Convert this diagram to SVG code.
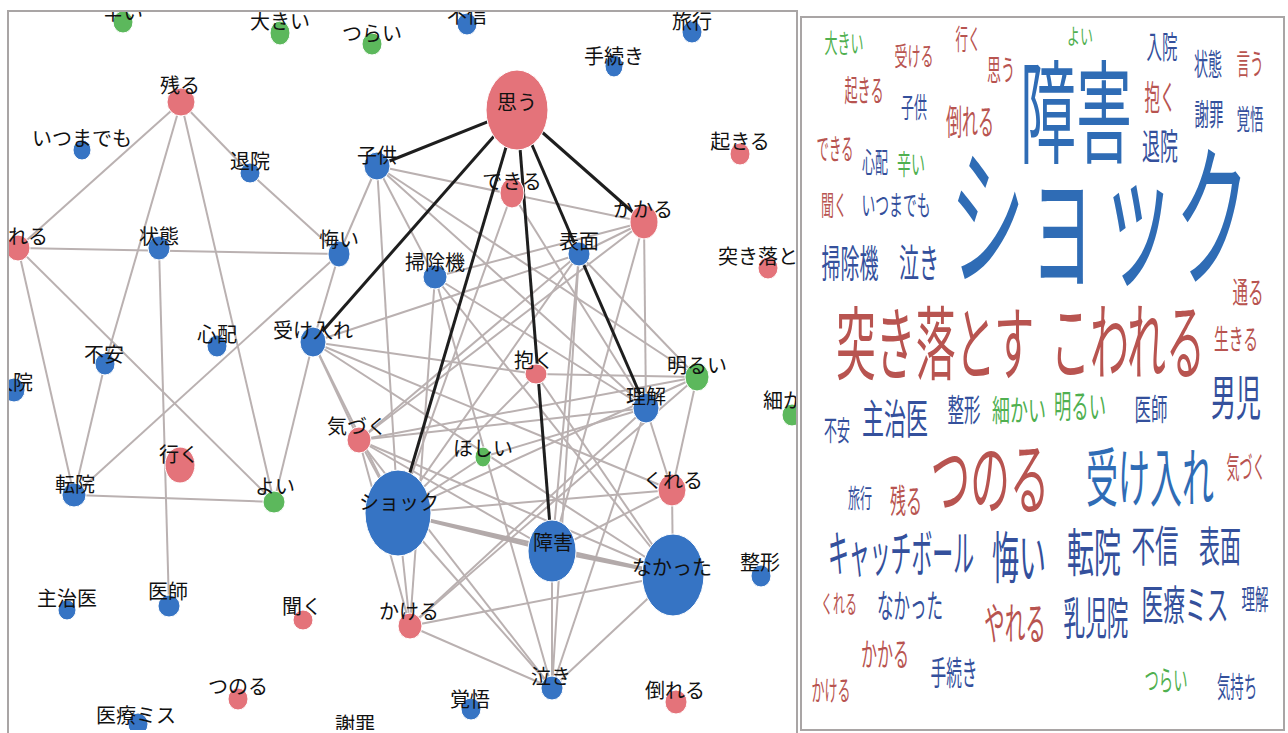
<svg xmlns="http://www.w3.org/2000/svg" width="1288" height="733" viewBox="0 0 1288 733">
<style>
.e{stroke:#bab1b1;stroke-width:2;fill:none}
.et{stroke:#b3aaaa;stroke-width:3;fill:none}
.k{stroke:#1e1e1e;stroke-width:3;fill:none}
.r{fill:#e4737a;stroke:#fff;stroke-width:1}
.b{fill:#3674c4;stroke:#fff;stroke-width:1}
.g{fill:#5cb85c;stroke:#fff;stroke-width:1}
.lb{font-family:"Noto Sans CJK JP","Noto Sans",sans-serif;font-size:20px;fill:#111;text-anchor:middle}
.w{font-family:"Noto Sans CJK JP","Noto Sans",sans-serif;text-anchor:middle}
.wB{fill:#2f6cb5}.wb{fill:#34509c}.wr{fill:#b85450}.wg{fill:#50b050}
.frame{fill:none;stroke:#a9a5a5;stroke-width:2}
</style>
<defs>
<clipPath id="lp"><rect x="8" y="11" width="789" height="719"/></clipPath>
</defs>
<rect width="1288" height="733" fill="#fff"/>
<g id="left-panel">
<g clip-path="url(#lp)">
<g id="connectors">
<line class="e" x1="181" y1="102" x2="18" y2="248"/>
<line class="e" x1="181" y1="102" x2="105" y2="364"/>
<line class="e" x1="181" y1="102" x2="274" y2="502"/>
<line class="e" x1="181" y1="102" x2="250" y2="173"/>
<line class="e" x1="250" y1="173" x2="339" y2="254"/>
<line class="e" x1="18" y1="248" x2="339" y2="254"/>
<line class="e" x1="18" y1="248" x2="74" y2="495"/>
<line class="e" x1="18" y1="248" x2="274" y2="502"/>
<line class="e" x1="159" y1="248" x2="169" y2="606"/>
<line class="e" x1="339" y1="254" x2="74" y2="495"/>
<line class="e" x1="105" y1="364" x2="74" y2="495"/>
<line class="e" x1="74" y1="495" x2="274" y2="502"/>
<line class="e" x1="313" y1="342" x2="274" y2="502"/>
<line class="e" x1="339" y1="254" x2="313" y2="342"/>
<line class="e" x1="377" y1="166" x2="339" y2="254"/>
<line class="e" x1="377" y1="166" x2="398" y2="513"/>
<line class="e" x1="377" y1="166" x2="435" y2="277"/>
<line class="e" x1="377" y1="166" x2="644" y2="222"/>
<line class="e" x1="377" y1="166" x2="646" y2="408"/>
<line class="e" x1="377" y1="166" x2="697" y2="377"/>
<line class="e" x1="313" y1="342" x2="579" y2="254"/>
<line class="e" x1="313" y1="342" x2="536" y2="374"/>
<line class="e" x1="313" y1="342" x2="359" y2="440"/>
<line class="e" x1="313" y1="342" x2="672" y2="490"/>
<line class="e" x1="313" y1="342" x2="673" y2="575"/>
<line class="e" x1="313" y1="342" x2="398" y2="513"/>
<line class="e" x1="435" y1="277" x2="644" y2="222"/>
<line class="e" x1="435" y1="277" x2="410" y2="626"/>
<line class="e" x1="435" y1="277" x2="552" y2="688"/>
<line class="e" x1="435" y1="277" x2="673" y2="575"/>
<line class="e" x1="435" y1="277" x2="646" y2="408"/>
<line class="e" x1="579" y1="254" x2="552" y2="551"/>
<line class="e" x1="579" y1="254" x2="552" y2="688"/>
<line class="e" x1="579" y1="254" x2="398" y2="513"/>
<line class="e" x1="579" y1="254" x2="359" y2="440"/>
<line class="e" x1="579" y1="254" x2="697" y2="377"/>
<line class="e" x1="579" y1="254" x2="644" y2="222"/>
<line class="e" x1="644" y1="222" x2="552" y2="551"/>
<line class="e" x1="644" y1="222" x2="646" y2="408"/>
<line class="e" x1="644" y1="222" x2="359" y2="440"/>
<line class="e" x1="512" y1="193" x2="398" y2="513"/>
<line class="e" x1="512" y1="193" x2="646" y2="408"/>
<line class="e" x1="536" y1="374" x2="697" y2="377"/>
<line class="e" x1="536" y1="374" x2="398" y2="513"/>
<line class="e" x1="536" y1="374" x2="673" y2="575"/>
<line class="e" x1="697" y1="377" x2="672" y2="490"/>
<line class="e" x1="697" y1="377" x2="359" y2="440"/>
<line class="e" x1="697" y1="377" x2="398" y2="513"/>
<line class="e" x1="697" y1="377" x2="410" y2="626"/>
<line class="e" x1="646" y1="408" x2="359" y2="440"/>
<line class="e" x1="646" y1="408" x2="410" y2="626"/>
<line class="e" x1="646" y1="408" x2="672" y2="490"/>
<line class="e" x1="646" y1="408" x2="552" y2="688"/>
<line class="e" x1="359" y1="440" x2="552" y2="551"/>
<line class="e" x1="359" y1="440" x2="673" y2="575"/>
<line class="e" x1="359" y1="440" x2="552" y2="688"/>
<line class="e" x1="359" y1="440" x2="398" y2="513"/>
<line class="e" x1="359" y1="440" x2="410" y2="626"/>
<line class="et" x1="398" y1="513" x2="552" y2="551"/>
<line class="et" x1="398" y1="513" x2="673" y2="575"/>
<line class="e" x1="398" y1="513" x2="672" y2="490"/>
<line class="e" x1="398" y1="513" x2="552" y2="688"/>
<line class="e" x1="398" y1="513" x2="410" y2="626"/>
<line class="e" x1="398" y1="513" x2="483" y2="457"/>
<line class="et" x1="552" y1="551" x2="673" y2="575"/>
<line class="e" x1="552" y1="551" x2="552" y2="688"/>
<line class="e" x1="552" y1="551" x2="672" y2="490"/>
<line class="e" x1="673" y1="575" x2="410" y2="626"/>
<line class="e" x1="673" y1="575" x2="552" y2="688"/>
<line class="e" x1="673" y1="575" x2="672" y2="490"/>
<line class="e" x1="410" y1="626" x2="552" y2="688"/>
<line class="e" x1="483" y1="457" x2="646" y2="408"/>
<line class="k" x1="517" y1="110" x2="377" y2="166"/>
<line class="k" x1="517" y1="110" x2="313" y2="342"/>
<line class="k" x1="517" y1="110" x2="398" y2="513"/>
<line class="k" x1="517" y1="110" x2="552" y2="551"/>
<line class="k" x1="517" y1="110" x2="579" y2="254"/>
<line class="k" x1="517" y1="110" x2="644" y2="222"/>
<line class="k" x1="579" y1="254" x2="646" y2="408"/>
</g>
<g id="n-tsurai2"><ellipse class="g" cx="123" cy="22" rx="10" ry="11"/><text class="lb" x="123" y="20">辛い</text></g>
<g id="n-ookii"><ellipse class="g" cx="280" cy="33" rx="10" ry="12"/><text class="lb" x="280" y="29">大きい</text></g>
<g id="n-tsurai"><ellipse class="g" cx="372" cy="44" rx="10" ry="11"/><text class="lb" x="372" y="41">つらい</text></g>
<g id="n-fushin"><ellipse class="b" cx="467" cy="24" rx="10" ry="11"/><text class="lb" x="467" y="23">不信</text></g>
<g id="n-ryokou"><ellipse class="b" cx="692" cy="32" rx="10" ry="11"/><text class="lb" x="692" y="29">旅行</text></g>
<g id="n-tetsuzuki"><ellipse class="b" cx="614" cy="66" rx="9" ry="11"/><text class="lb" x="614" y="64">手続き</text></g>
<g id="n-omou"><ellipse class="r" cx="517" cy="110" rx="31" ry="40"/><text class="lb" x="517" y="110">思う</text></g>
<g id="n-okiru"><ellipse class="r" cx="740" cy="154" rx="10" ry="11"/><text class="lb" x="740" y="149">起きる</text></g>
<g id="n-dekiru"><ellipse class="r" cx="512" cy="193" rx="12" ry="15"/><text class="lb" x="512" y="189">できる</text></g>
<g id="n-kakaru"><ellipse class="r" cx="644" cy="222" rx="14" ry="17"/><text class="lb" x="643" y="217">かかる</text></g>
<g id="n-nokoru"><ellipse class="r" cx="181" cy="102" rx="14" ry="14"/><text class="lb" x="180" y="93">残る</text></g>
<g id="n-itsumademo"><ellipse class="b" cx="82" cy="150" rx="9" ry="10"/><text class="lb" x="82" y="146">いつまでも</text></g>
<g id="n-taiin"><ellipse class="b" cx="250" cy="173" rx="10" ry="10"/><text class="lb" x="250" y="169">退院</text></g>
<g id="n-kodomo"><ellipse class="b" cx="377" cy="166" rx="13" ry="14"/><text class="lb" x="377" y="163">子供</text></g>
<g id="n-reru"><ellipse class="r" cx="18" cy="248" rx="12" ry="13"/><text class="lb" x="8" y="244" style="text-anchor:start">れる</text></g>
<g id="n-joutai"><ellipse class="b" cx="159" cy="248" rx="11" ry="12"/><text class="lb" x="159" y="244">状態</text></g>
<g id="n-kui"><ellipse class="b" cx="339" cy="254" rx="11" ry="13"/><text class="lb" x="339" y="247">悔い</text></g>
<g id="n-soujiki"><ellipse class="b" cx="435" cy="277" rx="12" ry="12"/><text class="lb" x="435" y="270">掃除機</text></g>
<g id="n-hyoumen"><ellipse class="b" cx="579" cy="254" rx="11" ry="12"/><text class="lb" x="579" y="249">表面</text></g>
<g id="n-tsukiotosu"><ellipse class="r" cx="768" cy="268" rx="10" ry="11"/><text class="lb" x="718" y="264" style="text-anchor:start">突き落と</text></g>
<g id="n-ukeire"><ellipse class="b" cx="313" cy="342" rx="13" ry="15"/><text class="lb" x="313" y="338">受け入れ</text></g>
<g id="n-shinpai"><ellipse class="b" cx="217" cy="346" rx="10" ry="11"/><text class="lb" x="217" y="342">心配</text></g>
<g id="n-fuan"><ellipse class="b" cx="105" cy="364" rx="10" ry="11"/><text class="lb" x="104" y="362">不安</text></g>
<g id="n-nyuuin"><ellipse class="b" cx="14" cy="390" rx="11" ry="12"/><text class="lb" x="33" y="390" style="text-anchor:end">入院</text></g>
<g id="n-daku"><ellipse class="r" cx="536" cy="374" rx="11" ry="10"/><text class="lb" x="534" y="368">抱く</text></g>
<g id="n-akarui"><ellipse class="g" cx="697" cy="377" rx="12" ry="14"/><text class="lb" x="697" y="373">明るい</text></g>
<g id="n-rikai"><ellipse class="b" cx="646" cy="408" rx="13" ry="15"/><text class="lb" x="646" y="404">理解</text></g>
<g id="n-komakai"><ellipse class="g" cx="792" cy="415" rx="10" ry="11"/><text class="lb" x="763" y="408" style="text-anchor:start">細か</text></g>
<g id="n-kizuku"><ellipse class="r" cx="359" cy="440" rx="12" ry="13"/><text class="lb" x="357" y="434">気づく</text></g>
<g id="n-hoshii"><ellipse class="g" cx="483" cy="457" rx="8" ry="10"/><text class="lb" x="483" y="456">ほしい</text></g>
<g id="n-iku"><ellipse class="r" cx="180" cy="465" rx="15" ry="18"/><text class="lb" x="179" y="462">行く</text></g>
<g id="n-kureru"><ellipse class="r" cx="672" cy="490" rx="14" ry="16"/><text class="lb" x="673" y="488">くれる</text></g>
<g id="n-tenin"><ellipse class="b" cx="74" cy="495" rx="12" ry="12"/><text class="lb" x="75" y="492">転院</text></g>
<g id="n-yoi"><ellipse class="g" cx="274" cy="502" rx="11" ry="11"/><text class="lb" x="275" y="494">よい</text></g>
<g id="n-shock"><ellipse class="b" cx="398" cy="513" rx="33" ry="43"/><text class="lb" x="399" y="510">ショック</text></g>
<g id="n-shougai"><ellipse class="b" cx="552" cy="551" rx="24" ry="31"/><text class="lb" x="553" y="550">障害</text></g>
<g id="n-nakatta"><ellipse class="b" cx="673" cy="575" rx="31" ry="41"/><text class="lb" x="672" y="575">なかった</text></g>
<g id="n-seikei"><ellipse class="b" cx="761" cy="576" rx="10" ry="11"/><text class="lb" x="760" y="570">整形</text></g>
<g id="n-shujii"><ellipse class="b" cx="67" cy="610" rx="9" ry="10"/><text class="lb" x="67" y="606">主治医</text></g>
<g id="n-ishi"><ellipse class="b" cx="169" cy="606" rx="11" ry="11"/><text class="lb" x="168" y="599">医師</text></g>
<g id="n-kiku"><ellipse class="r" cx="303" cy="620" rx="10" ry="10"/><text class="lb" x="302" y="614">聞く</text></g>
<g id="n-kakeru"><ellipse class="r" cx="410" cy="626" rx="12" ry="13"/><text class="lb" x="409" y="619">かける</text></g>
<g id="n-naki"><ellipse class="b" cx="552" cy="688" rx="11" ry="12"/><text class="lb" x="551" y="684">泣き</text></g>
<g id="n-tsunoru"><ellipse class="r" cx="238" cy="699" rx="10" ry="11"/><text class="lb" x="238" y="694">つのる</text></g>
<g id="n-kakugo"><ellipse class="b" cx="471" cy="709" rx="10" ry="11"/><text class="lb" x="470" y="707">覚悟</text></g>
<g id="n-taoreru"><ellipse class="r" cx="676" cy="702" rx="11" ry="12"/><text class="lb" x="675" y="698">倒れる</text></g>
<g id="n-iryoumisu"><ellipse class="b" cx="138" cy="724" rx="10" ry="11"/><text class="lb" x="136" y="723">医療ミス</text></g>
<g id="n-shazai"><text class="lb" x="355" y="732">謝罪</text></g>
</g>
<path class="frame" d="M8,733 V11 H797 V733"/>
</g>
<g id="wordcloud">
<rect class="frame" x="801" y="17" width="483" height="713"/>
<text class="w wg" x="844" y="53" font-size="26" textLength="39" lengthAdjust="spacingAndGlyphs">大きい</text>
<text class="w wr" x="914" y="66" font-size="26" textLength="39" lengthAdjust="spacingAndGlyphs">受ける</text>
<text class="w wr" x="968" y="50" font-size="28" textLength="25" lengthAdjust="spacingAndGlyphs">行く</text>
<text class="w wg" x="1080" y="44" font-size="22" textLength="26" lengthAdjust="spacingAndGlyphs">よい</text>
<text class="w wb" x="1162" y="58" font-size="31" textLength="31" lengthAdjust="spacingAndGlyphs">入院</text>
<text class="w wb" x="1208" y="75" font-size="30" textLength="28" lengthAdjust="spacingAndGlyphs">状態</text>
<text class="w wr" x="1250" y="75" font-size="29" textLength="27" lengthAdjust="spacingAndGlyphs">言う</text>
<text class="w wr" x="1001" y="81" font-size="29" textLength="28" lengthAdjust="spacingAndGlyphs">思う</text>
<text class="w wr" x="864" y="101" font-size="30" textLength="39" lengthAdjust="spacingAndGlyphs">起きる</text>
<text class="w wb" x="914" y="118" font-size="28" textLength="26" lengthAdjust="spacingAndGlyphs">子供</text>
<text class="w wr" x="970" y="135" font-size="35" textLength="48" lengthAdjust="spacingAndGlyphs">倒れる</text>
<text class="w wB" x="1076" y="155" font-size="112" textLength="112" lengthAdjust="spacingAndGlyphs">障害</text>
<text class="w wr" x="1160" y="110" font-size="34" textLength="31" lengthAdjust="spacingAndGlyphs">抱く</text>
<text class="w wb" x="1209" y="125" font-size="30" textLength="29" lengthAdjust="spacingAndGlyphs">謝罪</text>
<text class="w wb" x="1250" y="130" font-size="28" textLength="27" lengthAdjust="spacingAndGlyphs">覚悟</text>
<text class="w wb" x="1160" y="160" font-size="36" textLength="36" lengthAdjust="spacingAndGlyphs">退院</text>
<text class="w wr" x="835" y="160" font-size="29" textLength="37" lengthAdjust="spacingAndGlyphs">できる</text>
<text class="w wb" x="875" y="173" font-size="28" textLength="26" lengthAdjust="spacingAndGlyphs">心配</text>
<text class="w wg" x="911" y="175" font-size="28" textLength="28" lengthAdjust="spacingAndGlyphs">辛い</text>
<text class="w wr" x="834" y="216" font-size="28" textLength="26" lengthAdjust="spacingAndGlyphs">聞く</text>
<text class="w wb" x="896" y="216" font-size="28" textLength="69" lengthAdjust="spacingAndGlyphs">いつまでも</text>
<text class="w wB" x="1100" y="274" font-size="155" textLength="300" lengthAdjust="spacingAndGlyphs">ショック</text>
<text class="w wb" x="850" y="277" font-size="38" textLength="57" lengthAdjust="spacingAndGlyphs">掃除機</text>
<text class="w wb" x="919" y="277" font-size="39" textLength="40" lengthAdjust="spacingAndGlyphs">泣き</text>
<text class="w wr" x="1248" y="303" font-size="30" textLength="31" lengthAdjust="spacingAndGlyphs">通る</text>
<text class="w wr" x="935" y="373" font-size="80" textLength="198" lengthAdjust="spacingAndGlyphs">突き落とす</text>
<text class="w wr" x="1128" y="373" font-size="84" textLength="154" lengthAdjust="spacingAndGlyphs">こわれる</text>
<text class="w wr" x="1236" y="350" font-size="28" textLength="44" lengthAdjust="spacingAndGlyphs">生きる</text>
<text class="w wb" x="1236" y="415" font-size="48" textLength="50" lengthAdjust="spacingAndGlyphs">男児</text>
<text class="w wb" x="837" y="441" font-size="28" textLength="26" lengthAdjust="spacingAndGlyphs">不安</text>
<text class="w wb" x="895" y="434" font-size="41" textLength="66" lengthAdjust="spacingAndGlyphs">主治医</text>
<text class="w wb" x="964" y="421" font-size="31" textLength="33" lengthAdjust="spacingAndGlyphs">整形</text>
<text class="w wg" x="1019" y="421" font-size="30" textLength="54" lengthAdjust="spacingAndGlyphs">細かい</text>
<text class="w wg" x="1080" y="418" font-size="32" textLength="52" lengthAdjust="spacingAndGlyphs">明るい</text>
<text class="w wb" x="1151" y="420" font-size="30" textLength="33" lengthAdjust="spacingAndGlyphs">医師</text>
<text class="w wr" x="990" y="508" font-size="80" textLength="119" lengthAdjust="spacingAndGlyphs">つのる</text>
<text class="w wB" x="1150" y="501" font-size="64" textLength="128" lengthAdjust="spacingAndGlyphs">受け入れ</text>
<text class="w wr" x="1246" y="478" font-size="30" textLength="39" lengthAdjust="spacingAndGlyphs">気づく</text>
<text class="w wb" x="860" y="508" font-size="26" textLength="24" lengthAdjust="spacingAndGlyphs">旅行</text>
<text class="w wr" x="906" y="513" font-size="33" textLength="32" lengthAdjust="spacingAndGlyphs">残る</text>
<text class="w wb" x="901" y="572" font-size="50" textLength="146" lengthAdjust="spacingAndGlyphs">キャッチボール</text>
<text class="w wb" x="1019" y="578" font-size="56" textLength="54" lengthAdjust="spacingAndGlyphs">悔い</text>
<text class="w wb" x="1094" y="572" font-size="52" textLength="54" lengthAdjust="spacingAndGlyphs">転院</text>
<text class="w wb" x="1155" y="562" font-size="43" textLength="47" lengthAdjust="spacingAndGlyphs">不信</text>
<text class="w wb" x="1220" y="562" font-size="42" textLength="42" lengthAdjust="spacingAndGlyphs">表面</text>
<text class="w wr" x="839" y="613" font-size="25" textLength="36" lengthAdjust="spacingAndGlyphs">くれる</text>
<text class="w wb" x="910" y="618" font-size="33" textLength="66" lengthAdjust="spacingAndGlyphs">なかった</text>
<text class="w wr" x="1015" y="640" font-size="44" textLength="62" lengthAdjust="spacingAndGlyphs">やれる</text>
<text class="w wb" x="1096" y="635" font-size="45" textLength="65" lengthAdjust="spacingAndGlyphs">乳児院</text>
<text class="w wb" x="1185" y="620" font-size="41" textLength="87" lengthAdjust="spacingAndGlyphs">医療ミス</text>
<text class="w wb" x="1255" y="610" font-size="28" textLength="27" lengthAdjust="spacingAndGlyphs">理解</text>
<text class="w wr" x="885" y="666" font-size="32" textLength="48" lengthAdjust="spacingAndGlyphs">かかる</text>
<text class="w wb" x="954" y="685" font-size="33" textLength="47" lengthAdjust="spacingAndGlyphs">手続き</text>
<text class="w wr" x="831" y="701" font-size="28" textLength="39" lengthAdjust="spacingAndGlyphs">かける</text>
<text class="w wg" x="1166" y="691" font-size="28" textLength="43" lengthAdjust="spacingAndGlyphs">つらい</text>
<text class="w wb" x="1237" y="698" font-size="29" textLength="40" lengthAdjust="spacingAndGlyphs">気持ち</text>
</g>
</svg>
